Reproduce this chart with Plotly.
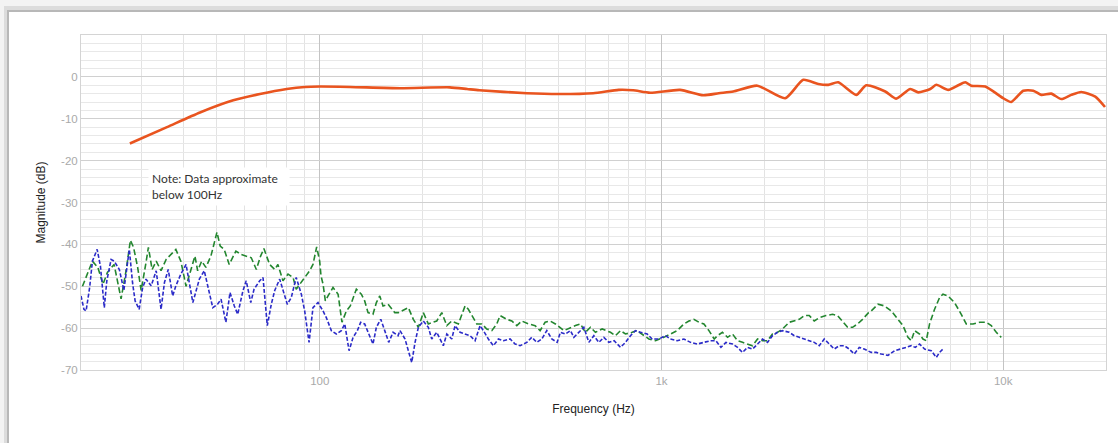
import plotly.graph_objects as go

# ---------------- data ----------------
orange_freq = [27.8, 35.7, 44.6, 55.8, 66.8, 80.0, 90.5, 100, 122.6, 171.7, 240, 269.8, 293,
               404, 500, 631, 749, 826, 927, 1133, 1325, 1471, 1622, 1907, 2302, 2600, 2877, 3077,
               3291, 3716, 3975, 4518, 4866, 5347, 5644, 6119, 6372, 6909, 7390, 7747, 8067, 8865,
               9677, 10000, 10562, 11453, 12251, 12930, 13831, 14796, 15828, 16931, 18606, 19865]
orange_db = [-15.9, -12.0, -8.5, -5.6, -4.1, -2.9, -2.4, -2.3, -2.4, -2.7, -2.5, -2.9, -3.2,
             -3.9, -4.1, -3.9, -3.1, -3.2, -3.8, -3.1, -4.4, -3.9, -3.5, -2.1, -5.1, -0.7, -1.7, -1.9,
             -1.3, -4.3, -2.0, -3.5, -5.2, -2.9, -3.7, -2.9, -1.9, -3.1, -2.0, -1.3, -2.1, -2.3,
             -4.3, -5.1, -6.0, -3.3, -3.3, -4.3, -4.0, -5.3, -4.3, -3.6, -4.7, -7.2]

green_freq = [20.2, 20.9, 21.6, 22.4, 23.2, 23.9, 25.0, 26.2, 27.1, 27.9, 28.5, 29.3, 30.0, 31.0,
              31.5, 32.3, 33.2, 34.3, 35.5, 37.9, 39.2, 40.6, 42.0, 43.1, 43.9, 45.1, 46.4, 48.0,
              50.0, 51.1, 52.5, 54.3, 56.8, 58.8, 63.0, 65.2, 67.1, 68.6, 71.3, 73.8, 75.4, 78.0,
              80.7, 83.5, 85.3, 88.3, 90.3, 93.4, 95.5, 97.9, 99.9, 100.8, 102.2, 103.8, 105.7,
              109.3, 113.1, 116.1, 119.6, 122.8, 127.9, 132.3, 135.3, 138.4, 143.1, 146.4, 149.8,
              153.1, 158.4, 165.7, 169.8, 181.6, 187.8, 194.3, 200.9, 207.8, 219.9, 227.5, 235.3,
              243.3, 254.4, 266.2, 272.1, 278.5, 288.0, 297.9, 308.1, 318.7, 329.6, 337.0, 352.6,
              364.7, 377.2, 390.1, 407.9, 426.7, 441.3, 456.5, 472.1, 489.3, 517.9, 560.0, 579.2,
              599.0, 619.6, 640.8, 670.4, 709.0, 733.3, 758.5, 784.5, 820.8, 848.9, 918.6, 960.4,
              1016, 1062, 1111, 1163, 1203, 1244, 1287, 1331, 1377, 1427, 1459, 1508, 1561, 1614,
              1670, 1726, 1786, 1847, 1911, 1976, 2044, 2113, 2186, 2261, 2365, 2447, 2531, 2617,
              2707, 2800, 2896, 3030, 3168, 3276, 3389, 3505, 3625, 3749, 3877, 4037, 4111, 4301,
              4497, 4705, 4922, 5091, 5265, 5384, 5505, 5693, 5825, 5956, 6090, 6299, 6515, 6666,
              6894, 7208, 7541, 7799, 8160, 8531, 8924, 9230, 9547, 9874]
green_db = [-50, -47, -44, -45.5, -49.5, -46.7, -44.8, -53, -46.3, -39, -40.7, -45.5, -51, -44.3,
            -40.7, -46, -44, -46.3, -43.6, -41.2, -44, -50, -46, -42.8, -46.3, -44, -45.5, -42.8,
            -37.1, -40.4, -41.2, -44.8, -41.6, -42.4, -43.2, -46, -42.8, -41, -44.8, -46, -44.8, -48.7,
            -47.1, -47.9, -50.7, -49, -47.9, -46.3, -44.8, -40.6, -44, -47.5, -49.5, -53.5, -52.3,
            -50.3, -51.9, -58.6, -55.9, -54.7, -50.7, -51.9, -53.5, -56.3, -56.7, -53.9, -52.3,
            -54.7, -54.3, -56.3, -56.3, -55.1, -57.9, -59.8, -56.3, -59, -58.3, -56.3, -59.4,
            -58.3, -59, -54.7, -55.5, -57, -59, -59, -60.2, -60.6, -59, -57, -57.9,
            -58.3, -59.4, -58.3, -59, -59.4, -60.6, -58.6, -58.3, -59, -60.6, -59.4, -59,
            -61, -59.8, -61, -60.2, -61, -61.8, -60.6, -61.4, -61, -60.6, -62.6, -63,
            -62.2, -61.4, -60.6, -59, -58.3, -57.9, -58.6, -59, -60.6, -62.6, -61.8, -61, -62.2, -61.4,
            -63, -63.4, -63.8, -64.2, -62.6, -63, -63, -61.4, -61, -60.2, -58.6, -58.3, -57.9, -57,
            -57, -58.3, -57.5, -57, -56.7, -57, -58.3, -59.8, -59.8, -59, -57.9, -56.3, -55.9, -54.3,
            -54.7, -55.9, -57.9, -59.4, -62.2, -63, -60.6, -61.4, -62.6, -63, -59, -55.5, -52.7, -51.9,
            -52.3, -53.9, -56.7, -59, -59, -58.6, -58.6, -59.4, -61, -62.2]

blue_freq = [20.0, 20.4, 20.7, 21.2, 21.6, 22.3, 22.8, 23.4, 23.8, 24.5, 25.0, 25.9, 26.7, 27.3,
             27.7, 28.3, 28.8, 29.6, 30.3, 31.0, 32.1, 33.2, 34.3, 35.1, 36.0, 37.1, 37.9, 39.2,
             40.6, 42.5, 43.4, 44.4, 45.9, 48.6, 50.2, 51.4, 53.1, 54.6, 56.2, 57.5, 59.6, 60.9,
             62.8, 64.2, 66.7, 68.2, 70.2, 72.1, 73.8, 76.3, 80.3, 82.5, 85.3, 88.3, 90.3, 93.0,
             95.5, 98.8, 102.2, 104.5, 108.1, 111.8, 115.6, 118.3, 121.8, 125.1, 128.8, 131.7,
             135.3, 139.1, 143.1, 146.4, 150.8, 154.9, 159.1, 163.8, 169.4, 171.7, 177.6, 181.6,
             185.8, 190.0, 194.3, 200.9, 207.8, 212.6, 219.9, 229.9, 235.3, 243.3, 248.8, 257.3,
             266.2, 275.3, 284.7, 294.5, 301.1, 311.4, 322.1, 333.2, 344.6, 360.5, 372.9, 385.7,
             403.5, 417.3, 431.6, 446.4, 461.7, 477.6, 495.0, 506.1, 523.4, 541.4, 554.0, 573.0,
             592.6, 612.9, 634.0, 655.7, 678.2, 701.4, 726.9, 758.5, 784.5, 811.4, 839.2, 868.0,
             908.1, 939.3, 982.7, 1027, 1062, 1111, 1163, 1216, 1273, 1331, 1392, 1443, 1493, 1544,
             1614, 1670, 1726, 1786, 1847, 1911, 1976, 2044, 2113, 2186, 2261, 2365, 2447, 2531,
             2617, 2707, 2800, 2896, 2995, 3098, 3204, 3313, 3428, 3545, 3666, 3792, 3921, 4111,
             4252, 4398, 4601, 4811, 5033, 5205, 5384, 5531, 5693, 5889, 6160, 6372, 6515, 6666]
blue_db = [-52.3, -55.5, -55.9, -50.3, -44, -41.2, -45.2, -55.1, -48.7, -43.6, -44, -46, -51, -45.5,
           -41.2, -49.1, -53.5, -55.5, -50.3, -48.3, -49.9, -46.3, -55.5, -49.1, -46, -52.3, -49.9, -47.1,
           -44.8, -53.9, -51, -48.3, -46.3, -55.1, -54.3, -53.1, -58.6, -51.5, -54.7, -56.7, -51, -48.7,
           -53.9, -50.7, -48.7, -47.9, -59.4, -54.3, -51, -48.3, -54.3, -52.7, -47.9, -51.9, -55.9, -63.4,
           -55.1, -53.9, -55.9, -57.5, -60.6, -61.4, -60.6, -59, -65.4, -62.2, -60.6, -58.6,
           -59, -61.4, -63.8, -59.8, -57.9, -60.6, -63.4, -61, -61.8, -60.6, -62.6, -65.4,
           -68.2, -63.4, -59.8, -58.3, -59.8, -62.6, -61, -64.2, -61.4, -62.6, -59.4, -61,
           -61.4, -61.8, -63, -59.4, -60.6, -62.6, -64.2, -62.6, -63, -62.6, -63.8, -64.2,
           -63.4, -62.2, -63.4, -62.6, -60.6, -62.6, -63.4, -61, -61.4, -60.6, -62.2, -61,
           -59.8, -63.4, -61.8, -63.4, -62.2, -63.4, -63, -64.6, -63.4, -61.8, -60.6, -61,
           -61.4, -62.6, -62.6, -61.8, -62.6, -63, -62.6, -63.4, -63.8, -63.4, -63, -63, -64.6, -63.4,
           -63.8, -64.6, -65.8, -64.6, -65, -63.8, -62.6, -63.4, -61.8, -61, -60.6, -61, -61.8, -62.2,
           -62.6, -63, -63.4, -64.2, -62.6, -63.8, -65, -64.2, -64.2, -65, -66.2, -64.6, -65, -65.8,
           -65.8, -66.2, -66.5, -65.4, -65, -64.6, -64.2, -64.6, -63.8, -65, -65.4, -67, -65.8, -65]

y_ticks = [-70, -60, -50, -40, -30, -20, -10, 0]
y_ticktext = ["-70", "-60", "-50", "-40", "-30", "-20", "-10", "0"]
x_ticks = [100, 1000, 10000]
x_ticktext = ["100", "1k", "10k"]
x_minor = [20, 30, 40, 50, 60, 70, 80, 90, 200, 300, 400, 500, 600, 700, 800, 900,
           2000, 3000, 4000, 5000, 6000, 7000, 8000, 9000]

# ---------------- figure ----------------
W, H = 1118, 443
L, R, T, B = 81, 12, 35, 73
pw, ph = W - L - R, H - T - B


def px(x):
    return (x - L) / pw


def py(y):
    return (H - B - y) / ph


fig = go.Figure()

fig.add_trace(go.Scatter(x=green_freq, y=green_db, mode="lines",
                         line=dict(color="#23862f", width=1.6, dash="6px,3px"),
                         hoverinfo="skip", showlegend=False))
fig.add_trace(go.Scatter(x=blue_freq, y=blue_db, mode="lines",
                         line=dict(color="#2b2bc8", width=1.6, dash="4px,2px"),
                         hoverinfo="skip", showlegend=False))
fig.add_trace(go.Scatter(x=orange_freq, y=orange_db, mode="lines",
                         line=dict(color="#e9541f", width=2.6, shape="spline", smoothing=0.6),
                         hoverinfo="skip", showlegend=False))

shapes = [
    dict(type="rect", xref="paper", yref="paper", x0=px(0), x1=px(W + 20), y0=py(H + 20), y1=py(0),
         fillcolor="#f3f3f3", line_width=0, layer="below"),
    dict(type="rect", xref="paper", yref="paper", x0=px(4), x1=px(W + 20), y0=py(H + 20), y1=py(6),
         fillcolor="#dcdcdc", line_width=0, layer="below"),
    dict(type="rect", xref="paper", yref="paper", x0=px(7), x1=px(W + 20), y0=py(H + 20), y1=py(10),
         fillcolor="#b8b8b8", line_width=0, layer="below"),
    dict(type="rect", xref="paper", yref="paper", x0=px(9), x1=px(W + 20), y0=py(H + 20), y1=py(12),
         fillcolor="#ffffff", line_width=0, layer="below"),
]
fig.update_layout(shapes=shapes)

fig.add_annotation(x=1.497, y=-21.6, xref="x", yref="y", xanchor="left", yanchor="top",
                   text="Note: Data approximate<br>below 100Hz", showarrow=False, align="left",
                   bgcolor="#ffffff", width=134, borderpad=3,
                   font=dict(family="Lato, Open Sans, sans-serif", size=12, color="#333333"))

fig.update_layout(
    width=W, height=H,
    margin=dict(l=L, r=R, t=T, b=B, autoexpand=False),
    paper_bgcolor="#ffffff",
    plot_bgcolor="rgba(0,0,0,0)",
    font=dict(family="Liberation Sans, Arial, sans-serif", size=11, color="#222222"),
    xaxis=dict(type="log", range=[1.30103, 4.30103], automargin=False,
               tickmode="array", tickvals=x_ticks, ticktext=x_ticktext,
               showgrid=True, gridcolor="#c4c4c4", gridwidth=1,
               minor=dict(tickmode="array", tickvals=x_minor, showgrid=True,
                          gridcolor="#e3e3e3", gridwidth=1, ticks=""),
               showline=True, mirror=True, linecolor="#d4d4d4", linewidth=1,
               ticks="", zeroline=False,
               tickfont=dict(color="#a9a9a9", size=11.5),
               title=dict(text="Frequency (Hz)", standoff=18,
                          font=dict(size=12, color="#222222"))),
    yaxis=dict(range=[-70, 10], automargin=False,
               tickmode="array", tickvals=y_ticks, ticktext=y_ticktext,
               showgrid=True, gridcolor="#d0d0d0", gridwidth=1,
               minor=dict(dtick=2, tick0=0, showgrid=True, gridcolor="#e8e8e8", gridwidth=1, ticks=""),
               showline=True, mirror=True, linecolor="#d4d4d4", linewidth=1,
               ticks="", zeroline=False,
               tickfont=dict(color="#a9a9a9", size=11.5),
               title=dict(text="Magnitude (dB)", standoff=12,
                          font=dict(size=12, color="#222222"))),
)

fig.write_html("out.html", config={"displayModeBar": False},
               post_script="document.body.style.margin='0px';document.body.style.overflow='hidden';")
